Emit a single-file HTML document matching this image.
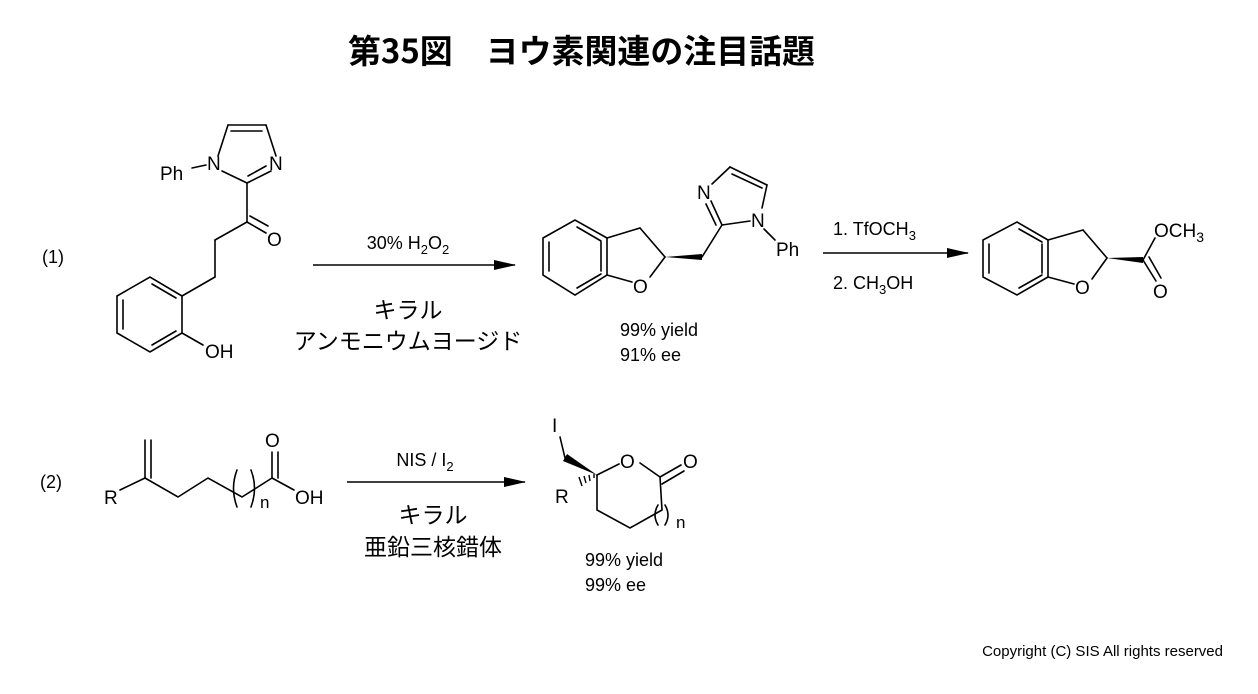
<!DOCTYPE html>
<html><head><meta charset="utf-8"><style>
html,body{margin:0;padding:0;background:#fff;}
svg{display:block;}
text{font-family:"Liberation Sans","Noto Sans CJK JP",sans-serif;fill:#000;}
.j{font-family:"Noto Sans CJK JP","WenQuanYi Zen Hei",sans-serif;}
.a text{paint-order:stroke;stroke:#fff;stroke-width:3px;stroke-linejoin:round;}
</style></head><body>
<svg width="1258" height="694" viewBox="0 0 1258 694" xmlns="http://www.w3.org/2000/svg">
<defs><marker id="ah" markerWidth="22" markerHeight="10" refX="21" refY="5" orient="auto" markerUnits="userSpaceOnUse"><path d="M0,0 L22,5 L0,10 Z" fill="#000"/></marker></defs>
<text x="348" y="63" font-size="33" font-weight="bold" class="j" textLength="467" lengthAdjust="spacingAndGlyphs">第35図　ヨウ素関連の注目話題</text>

<g stroke="#000" stroke-width="1.6" fill="none" stroke-linecap="round">
<!-- molecule 1 -->
<line x1="228" y1="125" x2="266" y2="125"/><line x1="231" y1="131" x2="262" y2="131"/>
<line x1="228" y1="125" x2="218" y2="156"/><line x1="266" y1="125" x2="276" y2="156"/>
<line x1="222" y1="171" x2="247" y2="183"/><line x1="247" y1="183" x2="271" y2="171"/><line x1="248" y1="176" x2="266" y2="166"/>
<line x1="192" y1="168" x2="206" y2="165"/>
<line x1="247" y1="183" x2="247" y2="222"/>
<line x1="247" y1="222" x2="266" y2="233"/><line x1="250" y1="216" x2="268" y2="226"/>
<line x1="247" y1="222" x2="215" y2="240"/><line x1="215" y1="240" x2="215" y2="277"/><line x1="215" y1="277" x2="182" y2="296"/>
<polygon points="182,296 150,277 117,296 117,333 150,352 182,333"/>
<line x1="123" y1="300" x2="123" y2="329"/><line x1="152" y1="284" x2="176" y2="298"/><line x1="152" y1="345" x2="176" y2="331"/>
<line x1="182" y1="333" x2="203" y2="345"/>
<!-- molecule 2 -->
<polygon points="543,238 575,220 607,238 607,275 575,295 543,275"/>
<line x1="549" y1="242" x2="549" y2="271"/><line x1="577" y1="227" x2="601" y2="241"/><line x1="601" y1="242" x2="601" y2="271"/>
<line x1="577" y1="288" x2="601" y2="274"/>
<line x1="607" y1="238" x2="640" y2="228"/><line x1="640" y1="228" x2="665" y2="257"/><line x1="665" y1="257" x2="650" y2="277"/><line x1="632" y1="282" x2="607" y2="275"/>
<line x1="702" y1="257" x2="722" y2="225"/>
<line x1="722" y1="225" x2="711" y2="201"/><line x1="716" y1="225" x2="706" y2="204"/>
<line x1="712" y1="184" x2="730" y2="167"/><line x1="730" y1="167" x2="767" y2="185"/><line x1="732" y1="174" x2="762" y2="188"/>
<line x1="767" y1="185" x2="762" y2="208"/><line x1="750" y1="221" x2="722" y2="225"/>
<line x1="764" y1="229" x2="775" y2="240"/>
<!-- molecule 3 -->
<polygon points="983,240 1017,222 1048,240 1048,277 1017,295 983,277"/>
<line x1="989" y1="244" x2="989" y2="273"/><line x1="1019" y1="229" x2="1042" y2="242"/><line x1="1042" y1="244" x2="1042" y2="273"/>
<line x1="1019" y1="288" x2="1042" y2="275"/>
<line x1="1048" y1="240" x2="1083" y2="230"/><line x1="1083" y1="230" x2="1107" y2="258"/><line x1="1107" y1="258" x2="1092" y2="279"/><line x1="1074" y1="284" x2="1048" y2="277"/>
<line x1="1143" y1="260" x2="1155" y2="238"/>
<line x1="1143" y1="260" x2="1156" y2="281"/><line x1="1149" y1="257" x2="1161" y2="278"/>
<!-- reaction 2 left -->
<line x1="120" y1="490" x2="145" y2="478"/>
<line x1="145" y1="478" x2="145" y2="440"/><line x1="151" y1="478" x2="151" y2="440"/>
<polyline points="145,478 178,497 208,478 242,497 272,478"/>
<path d="M237,470 Q230,488 237,507"/><path d="M251,470 Q258,488 251,507"/>
<line x1="272" y1="478" x2="272" y2="452"/><line x1="278" y1="478" x2="278" y2="452"/>
<line x1="272" y1="478" x2="294" y2="490"/>
<!-- product 2 -->
<line x1="560" y1="437" x2="565" y2="458"/>
<line x1="597" y1="475" x2="619" y2="464"/><line x1="640" y1="463" x2="660" y2="477"/>
<line x1="660" y1="477" x2="681" y2="465"/><line x1="662" y1="484" x2="684" y2="471"/>
<polyline points="660,477 662,510 630,528 597,510 597,475"/>
<path d="M658,505 Q652,515 658,525"/><path d="M665,505 Q671,515 665,525"/>
</g>
<!-- wedges -->
<polygon points="665,257 702,254 702,260" fill="#000"/>
<polygon points="1107,258 1143,257 1143,263" fill="#000"/>
<polygon points="597,475 563,461 567,454" fill="#000"/>
<g stroke="#000" stroke-width="1.4">
<line x1="594" y1="478" x2="594" y2="474"/><line x1="590" y1="481" x2="589" y2="475"/><line x1="586" y1="483" x2="584" y2="476"/><line x1="582" y1="486" x2="579" y2="477"/>
</g>
<!-- atom labels -->
<g font-size="19">
<text x="207" y="170">N</text><text x="269" y="170">N</text><text x="160" y="180">Ph</text>
<text x="267" y="246">O</text><text x="205" y="358">OH</text>
<text x="633" y="293">O</text><text x="697" y="199">N</text><text x="751" y="227">N</text><text x="776" y="256">Ph</text>
<text x="1075" y="294">O</text><text x="1154" y="237">OCH<tspan font-size="14" dy="5">3</tspan></text><text x="1153" y="298">O</text>
<text x="104" y="504">R</text><text x="265" y="447">O</text><text x="295" y="504">OH</text><text x="260" y="508" font-size="17">n</text>
<text x="552" y="432">I</text><text x="620" y="468">O</text><text x="683" y="468">O</text><text x="555" y="503">R</text><text x="676" y="528" font-size="17">n</text>
</g>
<!-- arrows -->
<g stroke="#000" stroke-width="1.6">
<line x1="313" y1="265" x2="515" y2="265" marker-end="url(#ah)"/>
<line x1="823" y1="253" x2="968" y2="253" marker-end="url(#ah)"/>
<line x1="347" y1="482" x2="525" y2="482" marker-end="url(#ah)"/>
</g>
<g font-size="18">
<text x="408" y="249" text-anchor="middle">30% H<tspan font-size="13" dy="5">2</tspan><tspan dy="-5">O</tspan><tspan font-size="13" dy="5">2</tspan></text>
<text x="833" y="235">1. TfOCH<tspan font-size="13" dy="5">3</tspan></text>
<text x="833" y="289">2. CH<tspan font-size="13" dy="5">3</tspan><tspan dy="-5">OH</tspan></text>
<text x="425" y="466" text-anchor="middle">NIS / I<tspan font-size="13" dy="5">2</tspan></text>
<text x="42" y="263">(1)</text><text x="40" y="488">(2)</text>
<text x="620" y="336">99% yield</text><text x="620" y="361">91% ee</text>
<text x="585" y="566">99% yield</text><text x="585" y="591">99% ee</text>
</g>
<g font-size="23" class="j" text-anchor="middle">
<text x="408" y="318">キラル</text><text x="408" y="349">アンモニウムヨージド</text>
<text x="433" y="523">キラル</text><text x="433" y="555">亜鉛三核錯体</text>
</g>
<text x="1223" y="656" font-size="15" text-anchor="end" fill="#333">Copyright (C) SIS All rights reserved</text>
</svg>
</body></html>
